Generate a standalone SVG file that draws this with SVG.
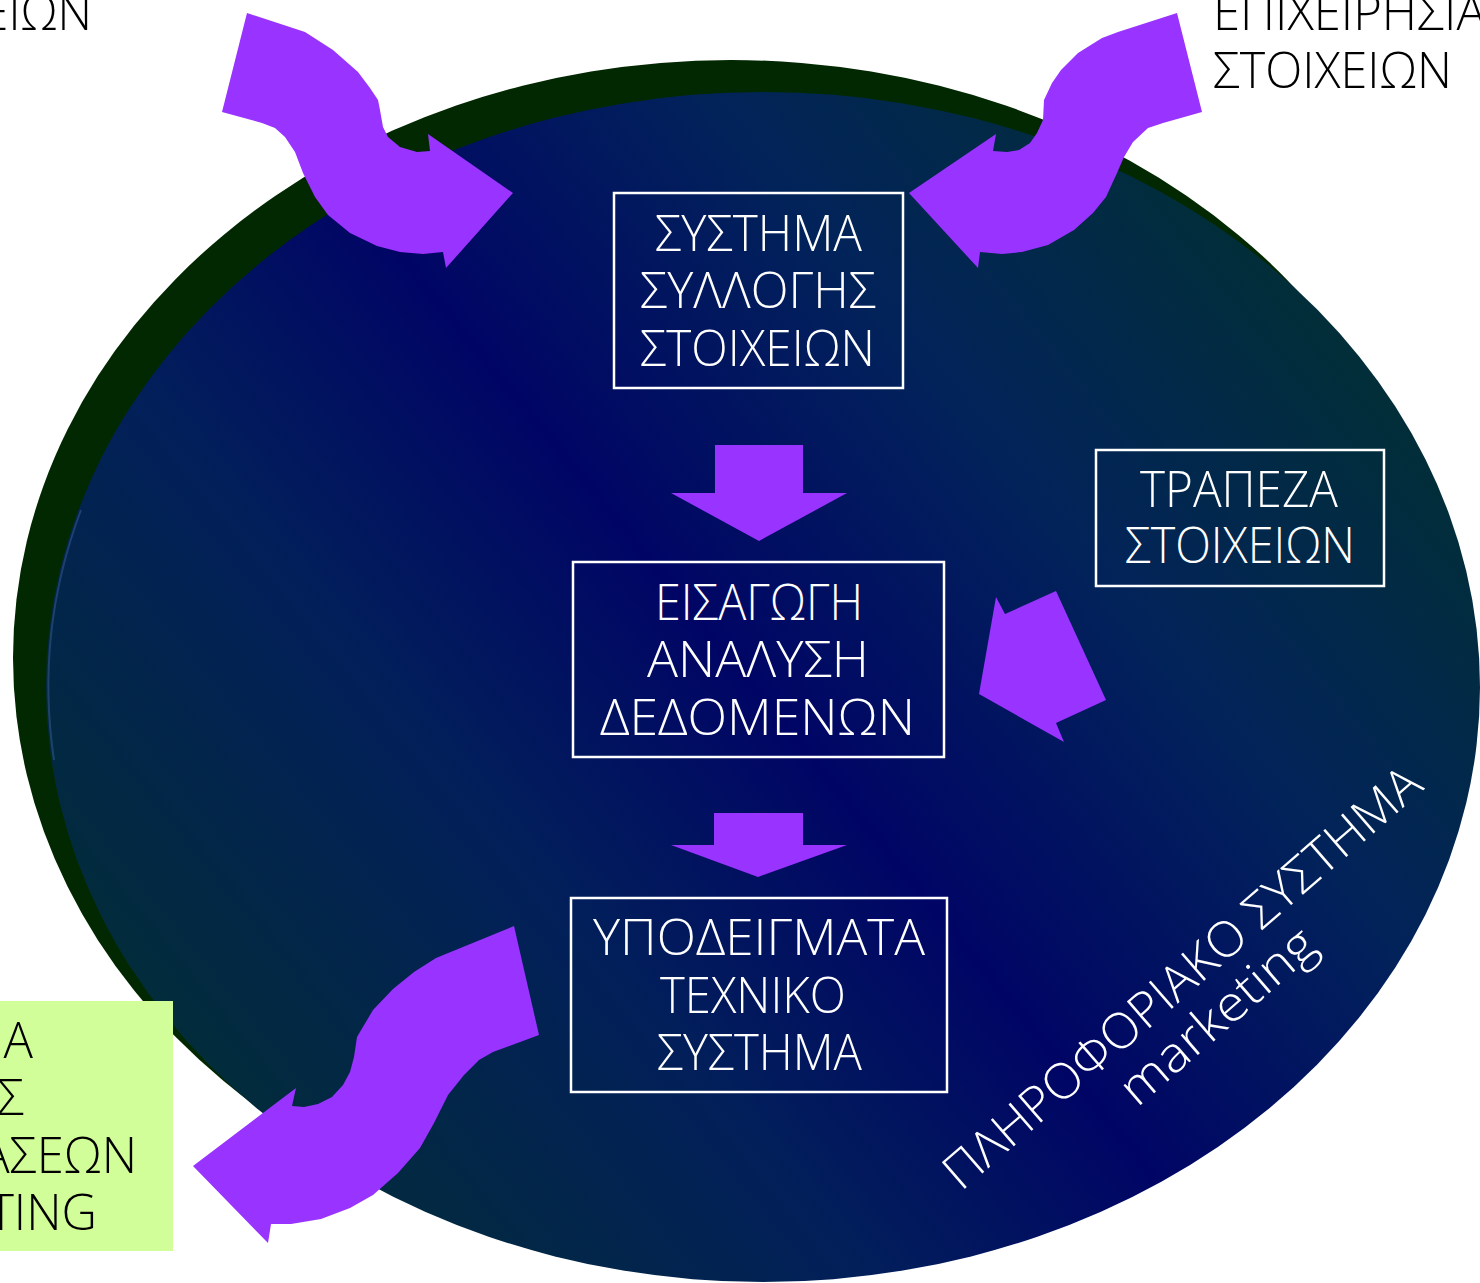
<svg xmlns="http://www.w3.org/2000/svg" width="1480" height="1283" viewBox="0 0 1480 1283">
<defs>
<linearGradient id="blueFill" gradientUnits="userSpaceOnUse" x1="1350" y1="250" x2="250" y2="1150">
<stop offset="0" stop-color="#013032"/>
<stop offset="0.28" stop-color="#02235a"/>
<stop offset="0.52" stop-color="#000565"/>
<stop offset="0.72" stop-color="#021f5a"/>
<stop offset="1" stop-color="#022c3a"/>
</linearGradient>
<style>
.box{fill:none;stroke:#ffffff;stroke-width:2.5}
.wt{font-family:"Open Sans","Noto Sans","DejaVu Sans",sans-serif;font-weight:300;font-size:49px;fill:#ffffff}
.bt{font-family:"Open Sans","Noto Sans","DejaVu Sans",sans-serif;font-weight:300;font-size:49px;fill:#000000}
.arrow{fill:#9933ff}
</style>
</defs>
<rect width="1480" height="1283" fill="#ffffff"/>
<g id="background">
<ellipse cx="731" cy="658" rx="718" ry="598" fill="#022802"/>
<ellipse cx="763" cy="687" rx="717" ry="595" fill="url(#blueFill)"/>
<path d="M81,510 A714,592 0 0 0 54,760" fill="none" stroke="#6080c0" stroke-width="2" opacity="0.3"/>
</g>
<g id="connectors">
<path class="arrow" d="M247,13 L305,32 L333,50 L358,72 L370,88 L378,100 L380,110 L383,127 L388,137 L400,147 L417,152 L430,151 L428,134 L513,193 L446,268 L443,252 L423,254 L400,252 L377,246 L350,233 L328,215 L315,197 L303,173 L295,152 L285,137 L275,128 L262,123 L222,112 Z"/>
<path class="arrow" d="M1177,13 L1118,32 L1102,38 L1078,53 L1061,70 L1052,83 L1044,100 L1043,120 L1037,133 L1030,143 L1019,150 L1007,152 L993,151 L996,134 L909,193 L978,268 L980,252 L1002,254 L1022,252 L1048,245 L1074,230 L1093,213 L1106,197 L1117,173 L1124,157 L1133,142 L1148,128 L1163,123 L1202,112 Z"/>
<path class="arrow" d="M514,926 L436,958 L414,972 L393,989 L373,1010 L357,1037 L354,1057 L350,1072 L343,1085 L332,1097 L318,1104 L304,1107 L292,1106 L296,1088 L193,1166 L268,1243 L271,1224 L291,1224 L321,1219 L350,1208 L373,1195 L398,1173 L420,1148 L434,1123 L448,1095 L464,1075 L479,1060 L493,1052 L539,1035 Z"/>
<path class="arrow" d="M715,445 H803 V493 H847 L759,541 L671,493 H715 Z"/>
<path class="arrow" d="M714,813 H803 V845 H847 L758,877 L671,845 H714 Z"/>
<path class="arrow" d="M979,694 L996,597 L1005,614 L1056,591 L1106,700 L1056,723 L1064,742 Z"/>
</g>
<g id="node-collection">
<rect class="box" x="614" y="193" width="289" height="195"/>
<text class="wt" x="655" y="251" textLength="207" lengthAdjust="spacingAndGlyphs">ΣΥΣΤΗΜΑ</text>
<text class="wt" x="640" y="308" textLength="236" lengthAdjust="spacingAndGlyphs">ΣΥΛΛΟΓΗΣ</text>
<text class="wt" x="640" y="366" textLength="235" lengthAdjust="spacingAndGlyphs">ΣΤΟΙΧΕΙΩΝ</text>
</g>
<g id="node-analysis">
<rect class="box" x="573" y="562" width="371" height="195"/>
<text class="wt" x="655" y="620" textLength="208" lengthAdjust="spacingAndGlyphs">ΕΙΣΑΓΩΓΗ</text>
<text class="wt" x="647" y="677" textLength="222" lengthAdjust="spacingAndGlyphs">ΑΝΑΛΥΣΗ</text>
<text class="wt" x="600" y="735" textLength="315" lengthAdjust="spacingAndGlyphs">ΔΕΔΟΜΕΝΩΝ</text>
</g>
<g id="node-models">
<rect class="box" x="571" y="898" width="376" height="194"/>
<text class="wt" x="593" y="955" textLength="332" lengthAdjust="spacingAndGlyphs">ΥΠΟΔΕΙΓΜΑΤΑ</text>
<text class="wt" x="660" y="1013" textLength="186" lengthAdjust="spacingAndGlyphs">ΤΕΧΝΙΚΟ</text>
<text class="wt" x="657" y="1070" textLength="205" lengthAdjust="spacingAndGlyphs">ΣΥΣΤΗΜΑ</text>
</g>
<g id="node-databank">
<rect class="box" x="1096" y="450" width="288" height="136"/>
<text class="wt" x="1140" y="507" textLength="198" lengthAdjust="spacingAndGlyphs">ΤΡΑΠΕΖΑ</text>
<text class="wt" x="1125" y="563" textLength="230" lengthAdjust="spacingAndGlyphs">ΣΤΟΙΧΕΙΩΝ</text>
</g>
<g id="node-decision">
<rect x="0" y="1001" width="173" height="250" fill="#d1fe98"/>
<text class="bt" x="33" y="1058" text-anchor="end">Α</text>
<text class="bt" x="24" y="1115" text-anchor="end">Σ</text>
<text class="bt" x="137" y="1173" text-anchor="end">ΑΣΕΩΝ</text>
<text class="bt" x="97" y="1230" text-anchor="end">TING</text>
</g>
<g id="node-source-left">
<text class="bt" x="-18" y="30" textLength="110" lengthAdjust="spacingAndGlyphs">ΕΙΩΝ</text>
</g>
<g id="node-source-right">
<text class="bt" x="1213" y="30">ΕΠΙΧΕΙΡΗΣΙΑ</text>
<text class="bt" x="1213" y="88" textLength="239" lengthAdjust="spacingAndGlyphs">ΣΤΟΙΧΕΙΩΝ</text>
</g>
<g id="system-label" transform="translate(961,1192) rotate(-41)">
<text class="wt" x="0" y="0" textLength="615" lengthAdjust="spacingAndGlyphs">ΠΛΗΡΟΦΟΡΙΑΚΟ ΣΥΣΤΗΜΑ</text>
<text class="wt" x="188" y="52" textLength="242" lengthAdjust="spacingAndGlyphs">marketing</text>
</g>
</svg>
